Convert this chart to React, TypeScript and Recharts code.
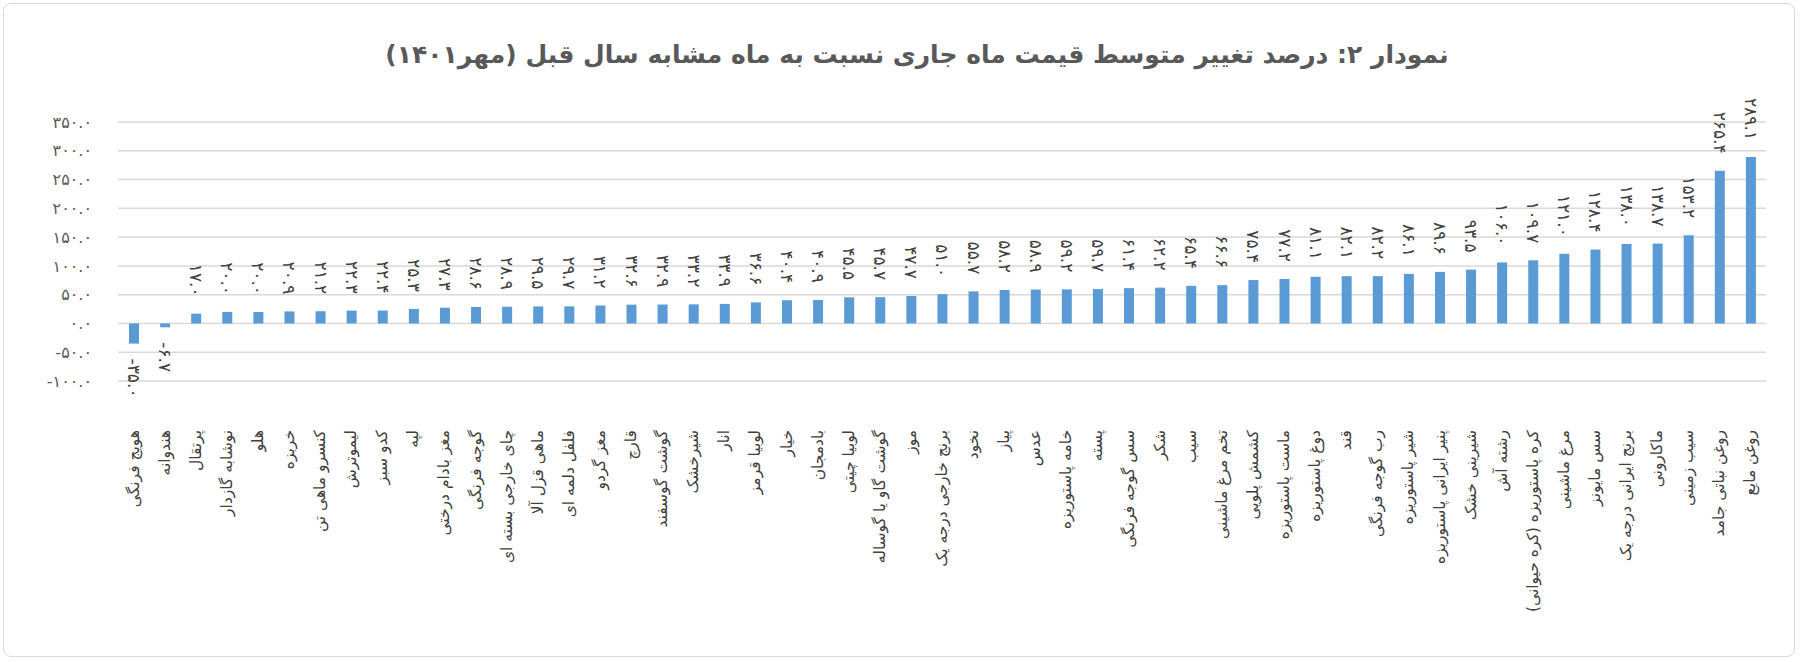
import React from "react";
import {
  Bar,
  BarChart,
  CartesianGrid,
  LabelList,
  XAxis,
  YAxis,
} from "recharts";

const categories = [
  "هویج فرنگی",
  "هندوانه",
  "پرتقال",
  "نوشابه گازدار",
  "هلو",
  "خربزه",
  "کنسرو ماهی تن",
  "لیموترش",
  "کدو سبز",
  "لپه",
  "مغز بادام درختی",
  "گوجه فرنگی",
  "چای خارجی بسته ای",
  "ماهی قزل آلا",
  "فلفل دلمه ای",
  "مغز گردو",
  "قارچ",
  "گوشت گوسفند",
  "شیرخشک",
  "انار",
  "لوبیا قرمز",
  "خیار",
  "بادمجان",
  "لوبیا چیتی",
  "گوشت گاو یا گوساله",
  "موز",
  "برنج خارجی درجه یک",
  "نخود",
  "پیاز",
  "عدس",
  "خامه پاستوریزه",
  "پسته",
  "سس گوجه فرنگی",
  "شکر",
  "سیب",
  "تخم مرغ ماشینی",
  "کشمش پلویی",
  "ماست پاستوریزه",
  "دوغ پاستوریزه",
  "قند",
  "رب گوجه فرنگی",
  "شیر پاستوریزه",
  "پنیر ایرانی پاستوریزه",
  "شیرینی خشک",
  "رشته آش",
  "کره پاستوریزه (کره حیوانی)",
  "مرغ ماشینی",
  "سس مایونز",
  "برنج ایرانی درجه یک",
  "ماکارونی",
  "سیب زمینی",
  "روغن نباتی جامد",
  "روغن مایع",
];

const changes = [
  -35.0, -6.7, 17.0, 20.0, 20.0, 20.9, 21.2, 22.3, 22.4, 25.3, 27.3, 28.6,
  28.9, 29.5, 29.7, 31.2, 32.6, 32.9, 33.2, 33.9, 36.6, 40.4, 40.9, 45.5,
  45.7, 47.7, 51.0, 55.7, 58.2, 58.9, 59.2, 59.7, 61.4, 62.2, 65.4, 66.6,
  75.4, 77.2, 81.1, 82.1, 82.2, 86.1, 89.6, 93.5, 106.0, 109.7, 121.0, 128.4,
  138.0, 138.7, 153.2, 265.4, 289.1,
];

const yTicks = [-100, -50, 0, 50, 100, 150, 200, 250, 300, 350];

const TITLE =
  "نمودار ۲: درصد تغییر متوسط قیمت ماه جاری نسبت به ماه مشابه سال قبل (مهر۱۴۰۱)";

const FONT = "'DejaVu Sans', sans-serif";

// persian digits, one decimal
const fa = (v: number) =>
  v.toFixed(1).replace(/[0-9]/g, (d) => "۰۱۲۳۴۵۶۷۸۹"[Number(d)]);

const data = categories.map((name, i) => ({ name, value: changes[i] }));

function DataLabel(props: any) {
  const { x, y, width, height, value } = props;
  const cx = x + width / 2;
  const top = Math.min(y, y + height);
  const bottom = Math.max(y, y + height);
  const neg = value < 0;
  const ay = neg ? bottom + 15 : top - 17;
  return (
    <text
      x={cx}
      y={ay}
      transform={`rotate(90, ${cx}, ${ay})`}
      textAnchor={neg ? "start" : "end"}
      dominantBaseline="central"
      fontSize={17}
      fontFamily={FONT}
      fill="#404040"
    >
      {fa(value)}
    </text>
  );
}

function CategoryTick(props: any) {
  const { x, y, payload } = props;
  const ty = y + 49;
  return (
    <text
      x={x}
      y={ty}
      transform={`rotate(-90, ${x}, ${ty})`}
      textAnchor="end"
      dominantBaseline="central"
      fontSize={15.5}
      fontFamily={FONT}
      fill="#404040"
    >
      {payload.value + "\u200F"}
    </text>
  );
}

export default function App() {
  return (
    <div
      style={{
        position: "absolute",
        left: 0,
        top: 0,
        width: 1800,
        height: 662,
        background: "#fff",
      }}
    >
      <div
        style={{
          position: "absolute",
          left: 3,
          top: 3,
          width: 1792,
          height: 654,
          border: "1px solid #d9d9d9",
          borderRadius: 8,
          boxSizing: "border-box",
        }}
      />
      <div
        dir="rtl"
        style={{
          position: "absolute",
          left: 0,
          width: 1834,
          top: 40,
          textAlign: "center",
          fontFamily: FONT,
          fontWeight: "bold",
          fontSize: 25,
          color: "#595959",
        }}
      >
        {TITLE}
      </div>
      <BarChart
        width={1800}
        height={662}
        data={data}
        margin={{ top: 122, right: 34, left: 0, bottom: 0 }}
        style={{ position: "absolute", left: 0, top: 0 }}
      >
        <CartesianGrid vertical={false} stroke="#d9d9d9" strokeWidth={1.5} />
        <XAxis
          dataKey="name"
          interval={0}
          height={281}
          tick={<CategoryTick />}
          tickLine={false}
          axisLine={false}
          tickSize={0}
          tickMargin={0}
        />
        <YAxis
          domain={[-100, 350]}
          ticks={yTicks}
          width={118}
          tickFormatter={fa}
          tickLine={false}
          axisLine={false}
          tickMargin={20}
          tick={{ fontSize: 16, fill: "#595959", fontFamily: FONT }}
          allowDataOverflow
        />
        <Bar
          dataKey="value"
          fill="#5b9bd5"
          barSize={10}
          isAnimationActive={false}
        >
          <LabelList dataKey="value" content={<DataLabel />} />
        </Bar>
      </BarChart>
    </div>
  );
}
